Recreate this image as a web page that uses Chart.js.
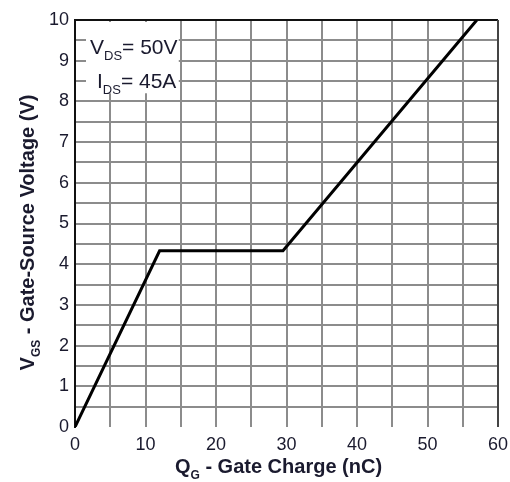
<!DOCTYPE html>
<html>
<head>
<meta charset="utf-8">
<script src="https://cdn.jsdelivr.net/npm/chart.js@4"></script>
<style>
  html, body { margin: 0; padding: 0; background: #fff; }
  #wrap { width: 510px; height: 482px; position: relative; }
</style>
</head>
<body>
<div id="wrap"><canvas id="c" width="510" height="482"></canvas></div>
<script>
// ---- data ----
const gateCharge = [0, 12, 29.5, 57];          // Q_G (nC)
const gateVoltage = [0, 4.33, 4.33, 10];        // V_GS (V)
const xMin = 0, xMax = 60, xGridStep = 5, xLabelStep = 10;
const yMin = 0, yMax = 10, yGridStep = 0.5, yLabelStep = 1;
const xTitleMain = 'Q', xTitleSub = 'G', xTitleRest = ' - Gate Charge (nC)';
const yTitleMain = 'V', yTitleSub = 'GS', yTitleRest = ' - Gate-Source Voltage (V)';
const noteLines = [['V', 'DS', '= 50V'], ['I', 'DS', '= 45A']];

const FONT = "'Liberation Sans', Arial, sans-serif";
const TEXT = '#1a1a2e';

function drawSubText(ctx, x, y, parts, size, bold, align) {
  const w = bold ? 'bold ' : '';
  const main = w + size + 'px ' + FONT;
  const sub = w + Math.round(size * 0.62) + 'px ' + FONT;
  ctx.font = main; const w1 = ctx.measureText(parts[0]).width;
  ctx.font = sub; const w2 = ctx.measureText(parts[1]).width;
  ctx.font = main; const w3 = ctx.measureText(parts[2]).width;
  const total = w1 + w2 + w3;
  let sx = align === 'center' ? x - total / 2 : x;
  ctx.textAlign = 'left';
  ctx.textBaseline = 'alphabetic';
  ctx.font = main; ctx.fillText(parts[0], sx, y);
  ctx.font = sub; ctx.fillText(parts[1], sx + w1, y + size * 0.3);
  ctx.font = main; ctx.fillText(parts[2], sx + w1 + w2, y);
}

const decor = {
  id: 'decor',
  beforeDatasetsDraw(chart) {
    const ctx = chart.ctx;
    const a = chart.chartArea;
    ctx.save();
    ctx.strokeStyle = '#111';
    ctx.lineWidth = 2;
    ctx.beginPath();
    ctx.moveTo(a.left, a.top); ctx.lineTo(a.right, a.top);
    ctx.stroke();
    ctx.strokeStyle = '#444';
    ctx.beginPath();
    ctx.moveTo(a.right, a.top); ctx.lineTo(a.right, a.bottom);
    ctx.stroke();
    const xs = chart.scales.x, ys = chart.scales.y;
    const bx = a.left + 11, by = a.top + 2;
    const bw = xs.getPixelForValue(15) - 2 - bx;
    const bh = ys.getPixelForValue(8.2) - by;
    ctx.fillStyle = '#fff';
    ctx.fillRect(bx, by, bw, bh);
    ctx.fillStyle = TEXT;
    drawSubText(ctx, a.left + 15, a.top + 34, noteLines[0], 21, false, 'left');
    drawSubText(ctx, a.left + 22, a.top + 68, noteLines[1], 21, false, 'left');
    ctx.restore();
  },
  afterDraw(chart) {
    const ctx = chart.ctx;
    const a = chart.chartArea;
    ctx.save();
    ctx.fillStyle = TEXT;
    drawSubText(ctx, (a.left + a.right) / 2 - 8, 473, [xTitleMain, xTitleSub, xTitleRest], 20, true, 'center');
    ctx.translate(34, (a.top + a.bottom) / 2 + 9);
    ctx.rotate(-Math.PI / 2);
    drawSubText(ctx, 0, 0, [yTitleMain, yTitleSub, yTitleRest], 20, true, 'center');
    ctx.restore();
  }
};

new Chart(document.getElementById('c'), {
  type: 'line',
  data: {
    datasets: [{
      data: gateCharge.map((q, i) => ({ x: q, y: gateVoltage[i] })),
      borderColor: '#000',
      borderWidth: 3,
      pointRadius: 0,
      tension: 0,
      fill: false
    }]
  },
  options: {
    responsive: false,
    animation: false,
    devicePixelRatio: 1,
    layout: { padding: { top: 20, right: 12, left: 0, bottom: 0 } },
    plugins: { legend: { display: false }, tooltip: { enabled: false } },
    scales: {
      x: {
        type: 'linear', min: xMin, max: xMax,
        border: { display: false },
        grid: {
          color: ctx => ctx.tick && ctx.tick.value === xMax ? '#444' : (ctx.tick && ctx.tick.value === xMin ? 'rgba(0,0,0,0)' : '#8c8c8c'),
          lineWidth: 2, drawTicks: false
        },
        ticks: {
          stepSize: xGridStep, autoSkip: false, maxRotation: 0, padding: 7,
          color: TEXT, font: { family: FONT, size: 18 },
          callback: v => (v % xLabelStep === 0 ? v : '')
        },
        afterFit: s => { s.height = 55; s.paddingRight = 0; s.paddingLeft = 0; }
      },
      y: {
        type: 'linear', min: yMin, max: yMax,
        border: { display: true, color: '#111', width: 2 },
        grid: {
          color: ctx => ctx.tick && (ctx.tick.value === yMin) ? 'rgba(0,0,0,0)' : (ctx.tick && ctx.tick.value === yMax ? '#111' : '#8c8c8c'),
          lineWidth: 2, drawTicks: false
        },
        ticks: {
          stepSize: yGridStep, autoSkip: false, padding: 6,
          color: TEXT, font: { family: FONT, size: 18 },
          callback: v => (Number.isInteger(v) && v % yLabelStep === 0 ? v : '')
        },
        afterFit: s => { s.width = 75; }
      }
    }
  },
  plugins: [decor]
});
</script>
</body>
</html>
